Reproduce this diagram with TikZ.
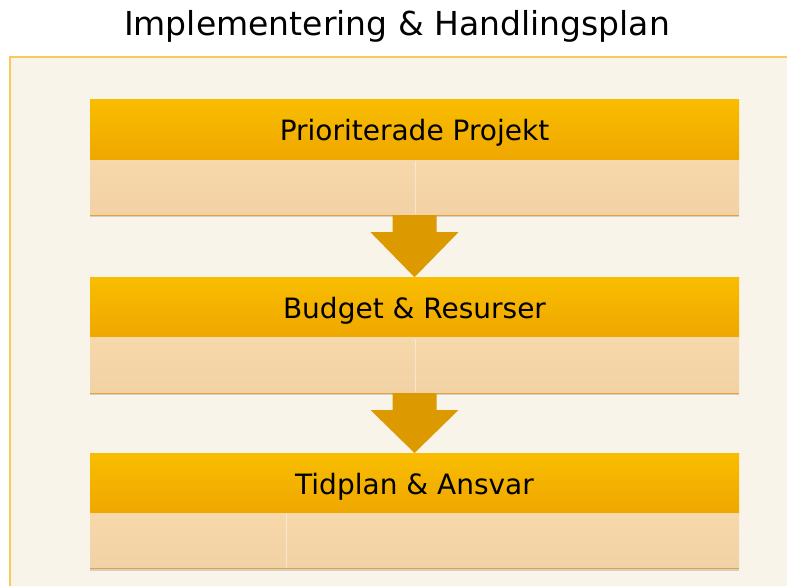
\documentclass[tikz,border=0pt]{standalone}
\usepackage{fontspec}
\setmainfont{DejaVu Sans}
\usepackage{xcolor}
\usetikzlibrary{positioning, shadows, calc}
\definecolor{headtop}{HTML}{F9BD00}
\definecolor{headbot}{HTML}{EFA700}
\definecolor{bodytop}{HTML}{F6D8AB}
\definecolor{bodybot}{HTML}{F2D2A4}
\definecolor{panelfill}{HTML}{F8F4EA}
\definecolor{panelline}{HTML}{FAC85C}
\definecolor{arrowfill}{HTML}{DD9A00}
\definecolor{bodyedge}{HTML}{E2A23C}

\begin{document}
\begin{tikzpicture}[x=1pt,y=-1pt]
        \tikzset{head/.style = {minimum width=649pt, minimum height=60pt, inner sep=0pt,
                text height=26pt, text depth=4pt,
                top color=headtop, bottom color=headbot, font=\fontsize{28}{32}\selectfont}}
        \tikzset{body/.style = {minimum width=649pt, minimum height=55pt, inner sep=0pt,
                top color=bodytop, bottom color=bodybot,
                drop shadow={opacity=0.3, shadow xshift=0pt, shadow yshift=-2pt}}}
        \tikzset{blockarrow/.style = {fill=arrowfill, draw=none}}
        \tikzset{divider/.style = {white, opacity=0.45, line width=0.8pt}}

        \useasboundingbox (0,0) rectangle (787,586);
        \clip (0,0) rectangle (787,586);

        % panel
        \fill[panelfill] (10,57) rectangle (800,600);
        \draw[panelline, line width=1.2pt] (10,600) -- (10,57) -- (800,57);

        \node[font=\fontsize{33}{40}\selectfont] (title) at (397,26) {Implementering \& Handlingsplan};

        % steps
        \node[body] (body1) at (414.5,187.5) {};
        \node[head, above=0pt of body1] (head1) {Prioriterade Projekt};
        \node[head, below=62pt of body1] (head2) {Budget \& Resurser};
        \node[body, below=0pt of head2] (body2) {};
        \node[head, below=60pt of body2] (head3) {Tidplan \& Ansvar};
        \node[body, below=0pt of head3] (body3) {};

        \draw[bodyedge, line width=1pt] (body1.south west) -- (body1.south east);
        \draw[bodyedge, line width=1pt] (body2.south west) -- (body2.south east);
        \draw[bodyedge, line width=1pt] (body3.south west) -- (body3.south east);

        \draw[divider] ($(body1.north)+(0.5,1)$) -- ($(body1.south)+(0.5,-1)$);
        \draw[divider] ($(body2.north)+(0.5,1)$) -- ($(body2.south)+(0.5,-1)$);
        \draw[divider] ($(body3.north)+(-128.5,1)$) -- ($(body3.south)+(-128.5,-1)$);

        % arrows
        \fill[blockarrow] ($(body1.south)+(-22,0)$) -- ++(0,17) -- ++(-22,0) -- (head2.north)
                -- ($(body1.south)+(44,17)$) -- ++(-22,0) -- ($(body1.south)+(22,0)$) -- cycle;
        \fill[blockarrow] ($(body2.south)+(-22,0)$) -- ++(0,17) -- ++(-22,0) -- (head3.north)
                -- ($(body2.south)+(44,17)$) -- ++(-22,0) -- ($(body2.south)+(22,0)$) -- cycle;

\end{tikzpicture}
\end{document}
